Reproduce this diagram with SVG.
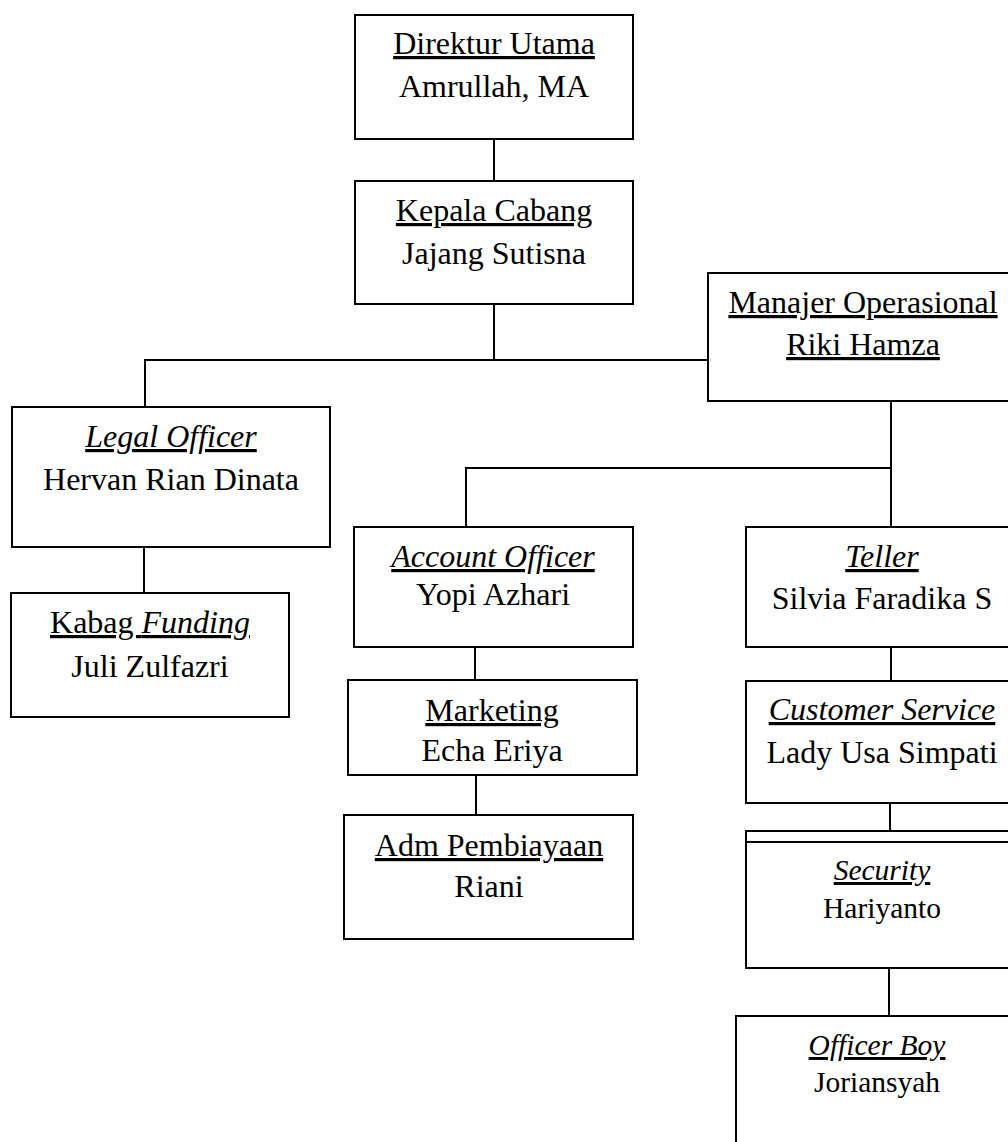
<svg xmlns="http://www.w3.org/2000/svg" width="1008" height="1142" viewBox="0 0 1008 1142">
<style>
.box{fill:#fff;stroke:#000;stroke-width:2}
.ln{stroke:#000;stroke-width:2;fill:none}
text{font-family:"Liberation Serif","Times New Roman",serif;font-size:32px;fill:#000;text-anchor:middle}
.sm{font-size:29.5px}
.u{text-decoration:underline}
.i{font-style:italic}
</style>
<rect width="1008" height="1142" fill="#fff"/>
<g id="connectors">
<line class="ln" x1="494" y1="139" x2="494" y2="181"/>
<line class="ln" x1="494" y1="304" x2="494" y2="360"/>
<polyline class="ln" points="145,407 145,360 708,360"/>
<line class="ln" x1="144" y1="547" x2="144" y2="593"/>
<line class="ln" x1="891" y1="401" x2="891" y2="527"/>
<polyline class="ln" points="466,527 466,468 891,468"/>
<line class="ln" x1="475" y1="647" x2="475" y2="680"/>
<line class="ln" x1="476" y1="775" x2="476" y2="815"/>
<line class="ln" x1="891" y1="647" x2="891" y2="681"/>
<line class="ln" x1="890" y1="803" x2="890" y2="831"/>
<line class="ln" x1="889" y1="968" x2="889" y2="1016"/>
</g>
<g id="direktur">
<rect class="box" x="355" y="15" width="278" height="124"/>
<text x="494" y="54" class="u">Direktur Utama</text>
<text x="494" y="97">Amrullah, MA</text>
</g>
<g id="kepala">
<rect class="box" x="355" y="181" width="278" height="123"/>
<text x="494" y="221" class="u">Kepala Cabang</text>
<text x="494" y="264">Jajang Sutisna</text>
</g>
<g id="manajer">
<rect class="box" x="708" y="273" width="311" height="128"/>
<text x="863" y="313" class="u">Manajer Operasional</text>
<text x="863" y="355" class="u">Riki Hamza</text>
</g>
<g id="legal">
<rect class="box" x="12" y="407" width="318" height="140"/>
<text x="171" y="447" class="u i">Legal Officer</text>
<text x="171" y="490">Hervan Rian Dinata</text>
</g>
<g id="funding">
<rect class="box" x="11" y="593" width="278" height="124"/>
<text x="150" y="633" class="u">Kabag <tspan class="i">Funding</tspan></text>
<text x="150" y="677">Juli Zulfazri</text>
</g>
<g id="account">
<rect class="box" x="354" y="527" width="279" height="120"/>
<text x="493" y="567" class="u i">Account Officer</text>
<text x="493" y="605">Yopi Azhari</text>
</g>
<g id="marketing">
<rect class="box" x="348" y="680" width="289" height="95"/>
<text x="492" y="721" class="u">Marketing</text>
<text x="492" y="761">Echa Eriya</text>
</g>
<g id="adm">
<rect class="box" x="344" y="815" width="289" height="124"/>
<text x="489" y="856" class="u">Adm Pembiayaan</text>
<text x="489" y="897">Riani</text>
</g>
<g id="teller">
<rect class="box" x="746" y="527" width="273" height="120"/>
<text x="882" y="567" class="u i">Teller</text>
<text x="882" y="609">Silvia Faradika S</text>
</g>
<g id="cs">
<rect class="box" x="746" y="681" width="273" height="122"/>
<text x="882" y="720" class="u i">Customer Service</text>
<text x="882" y="763">Lady Usa Simpati</text>
</g>
<g id="security">
<rect class="box" x="746" y="831" width="273" height="137"/>
<line class="ln" x1="746" y1="842" x2="1019" y2="842"/>
<text x="882" y="880" class="u i sm">Security</text>
<text x="882" y="918" class="sm">Hariyanto</text>
</g>
<g id="officerboy">
<rect class="box" x="736" y="1016" width="283" height="140"/>
<text x="877" y="1055" class="u i sm">Officer Boy</text>
<text x="877" y="1092" class="sm">Joriansyah</text>
</g>
</svg>
